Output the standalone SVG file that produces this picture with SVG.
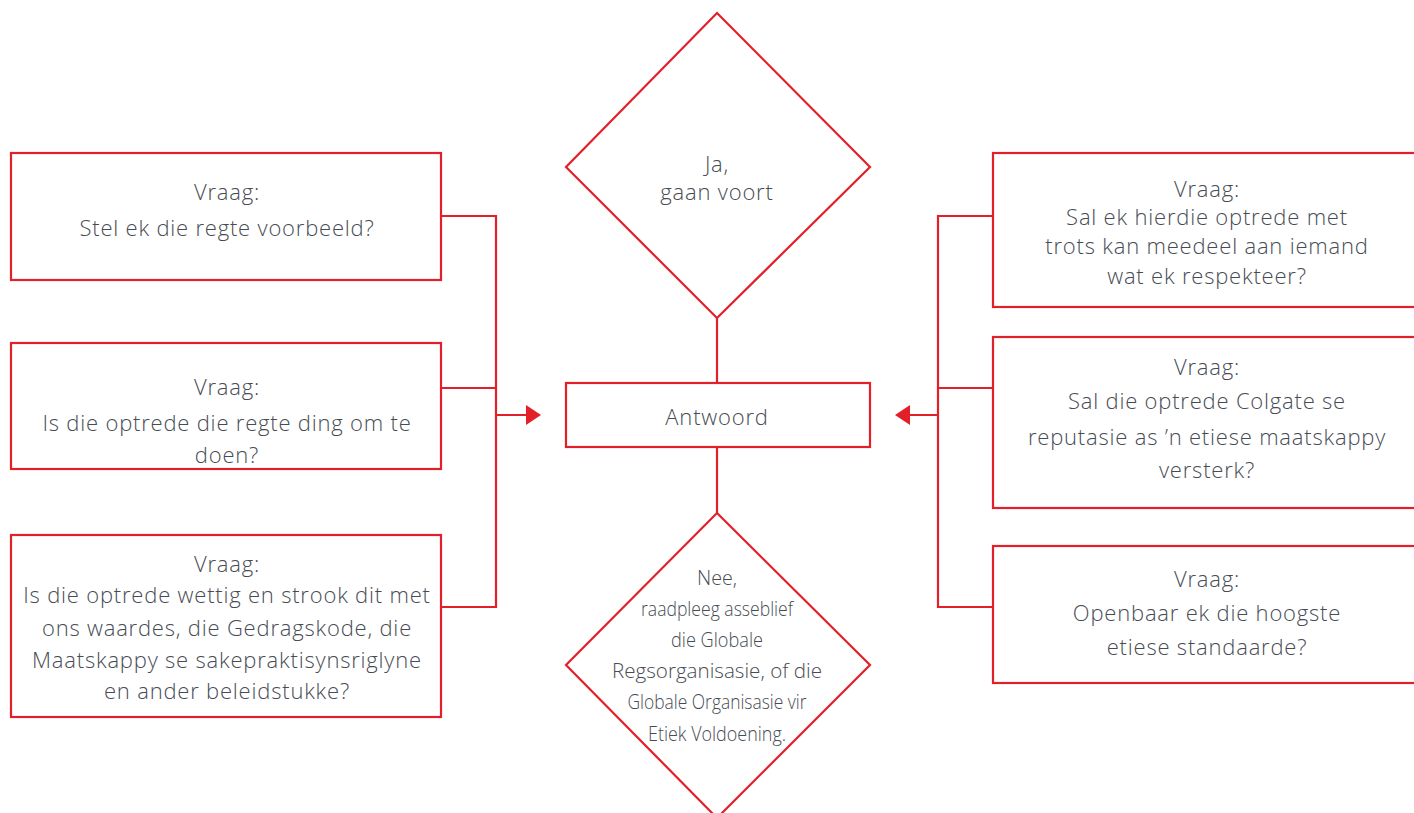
<svg xmlns="http://www.w3.org/2000/svg" width="1414" height="813" viewBox="0 0 1414 813">
<style>
.shape{fill:#fff;stroke:#e3202a;stroke-width:2.2}
.ln{fill:none;stroke:#e3202a;stroke-width:2.2}
.ah{fill:#e3202a}
text{font-family:"Open Sans","Noto Sans",sans-serif;font-size:22px;font-weight:300;letter-spacing:0.8px;fill:#474c54;text-anchor:middle}
.nar{font-size:21px;letter-spacing:0}
</style>
<rect width="1414" height="813" fill="#fff"/>
<g id="connectors">
<path class="ln" d="M441,216H496V607H441M441,388H496M496,415H528"/>
<polygon class="ah" points="526,405 541,415 526,425"/>
<path class="ln" d="M993,216H938V607H993M993,388H938M938,415H908"/>
<polygon class="ah" points="910,405 895,415 910,425"/>
<path class="ln" d="M717,318V383M717,447V513"/>
</g>
<g id="ja">
<polygon class="shape" points="717,13 870,167 717,318 566,167"/>
<text x="717" y="172">Ja,</text>
<text x="717" y="200">gaan voort</text>
</g>
<g id="antwoord">
<rect class="shape" x="566" y="383" width="304" height="64"/>
<text x="717" y="425" font-size="23">Antwoord</text>
</g>
<g id="nee">
<polygon class="shape" points="717,513 870,665 717,818 566,665"/>
<text class="nar" x="717" y="585" textLength="40" lengthAdjust="spacingAndGlyphs">Nee,</text>
<text class="nar" x="717" y="616" textLength="152" lengthAdjust="spacingAndGlyphs">raadpleeg asseblief</text>
<text class="nar" x="717" y="647" textLength="92" lengthAdjust="spacingAndGlyphs">die Globale</text>
<text class="nar" x="717" y="678" textLength="210" lengthAdjust="spacingAndGlyphs">Regsorganisasie, of die</text>
<text class="nar" x="717" y="709" textLength="179" lengthAdjust="spacingAndGlyphs">Globale Organisasie vir</text>
<text class="nar" x="717" y="741" textLength="138" lengthAdjust="spacingAndGlyphs">Etiek Voldoening.</text>
</g>
<g id="l1">
<rect class="shape" x="11" y="153" width="430" height="127"/>
<text x="227" y="200">Vraag:</text>
<text x="227" y="236">Stel ek die regte voorbeeld?</text>
</g>
<g id="l2">
<rect class="shape" x="11" y="343" width="430" height="126"/>
<text x="227" y="395">Vraag:</text>
<text x="227" y="431">Is die optrede die regte ding om te</text>
<text x="227" y="463">doen?</text>
</g>
<g id="l3">
<rect class="shape" x="11" y="535" width="430" height="182"/>
<text x="227" y="572">Vraag:</text>
<text x="227" y="603">Is die optrede wettig en strook dit met</text>
<text x="227" y="636">ons waardes, die Gedragskode, die</text>
<text x="227" y="668">Maatskappy se sakepraktisynsriglyne</text>
<text x="227" y="699">en ander beleidstukke?</text>
</g>
<g id="r1">
<rect class="shape" x="993" y="153" width="430" height="154"/>
<text x="1207" y="197">Vraag:</text>
<text x="1207" y="225">Sal ek hierdie optrede met</text>
<text x="1207" y="254">trots kan meedeel aan iemand</text>
<text x="1207" y="284">wat ek respekteer?</text>
</g>
<g id="r2">
<rect class="shape" x="993" y="337" width="430" height="171"/>
<text x="1207" y="375">Vraag:</text>
<text x="1207" y="409">Sal die optrede Colgate se</text>
<text x="1207" y="445">reputasie as ’n etiese maatskappy</text>
<text x="1207" y="478">versterk?</text>
</g>
<g id="r3">
<rect class="shape" x="993" y="546" width="430" height="137"/>
<text x="1207" y="587">Vraag:</text>
<text x="1207" y="621">Openbaar ek die hoogste</text>
<text x="1207" y="655">etiese standaarde?</text>
</g>
</svg>
